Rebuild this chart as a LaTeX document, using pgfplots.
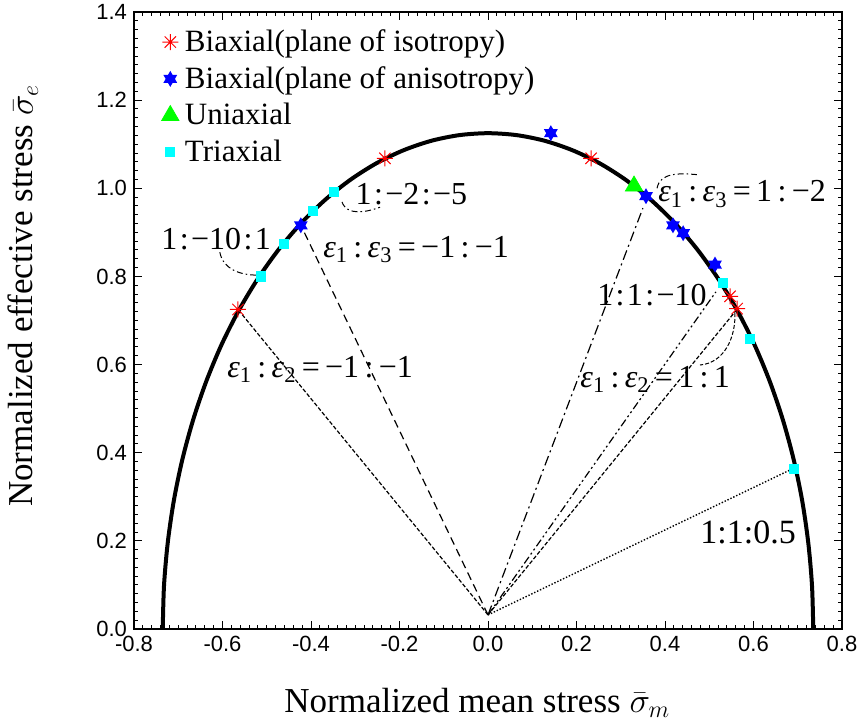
\documentclass[border=0pt]{standalone}
\usepackage{pgfplots}
\pgfplotsset{compat=1.18}
\usepackage{fontspec}
\setmainfont{Liberation Serif}
\newfontfamily\sansf{Liberation Sans}
\usetikzlibrary{plotmarks}

% six-pointed filled star
\pgfdeclareplotmark{hexstar}{%
  \pgfpathmoveto{\pgfqpointpolar{90}{\pgfplotmarksize}}%
  \pgfpathlineto{\pgfqpointpolar{210}{\pgfplotmarksize}}%
  \pgfpathlineto{\pgfqpointpolar{330}{\pgfplotmarksize}}%
  \pgfpathclose
  \pgfpathmoveto{\pgfqpointpolar{270}{\pgfplotmarksize}}%
  \pgfpathlineto{\pgfqpointpolar{30}{\pgfplotmarksize}}%
  \pgfpathlineto{\pgfqpointpolar{150}{\pgfplotmarksize}}%
  \pgfpathclose
  \pgfusepathqfill}
% eight-ray asterisk
\pgfdeclareplotmark{ast8}{%
  \pgfpathmoveto{\pgfqpoint{-\pgfplotmarksize}{0pt}}\pgfpathlineto{\pgfqpoint{\pgfplotmarksize}{0pt}}%
  \pgfpathmoveto{\pgfqpoint{0pt}{-\pgfplotmarksize}}\pgfpathlineto{\pgfqpoint{0pt}{\pgfplotmarksize}}%
  \pgfpathmoveto{\pgfqpointpolar{45}{\pgfplotmarksize}}\pgfpathlineto{\pgfqpointpolar{225}{\pgfplotmarksize}}%
  \pgfpathmoveto{\pgfqpointpolar{135}{\pgfplotmarksize}}\pgfpathlineto{\pgfqpointpolar{315}{\pgfplotmarksize}}%
  \pgfusepathqstroke}

\newcommand\eps[1]{\textit{ε}\textsubscript{#1}}
\newcommand\ann{\fontsize{16}{18}\selectfont}
\newcommand\s{\kern1.2pt}

\begin{document}
\begin{tikzpicture}
\begin{axis}[
    name=ax,
    width=354pt, height=308.5pt, scale only axis,
    xmin=-0.8, xmax=0.8, ymin=0, ymax=1.4,
    xtick={-0.8,-0.6,...,0.8},
    xticklabels={-0.8,-0.6,-0.4,-0.2,0.0,0.2,0.4,0.6,0.8},
    ytick={0,0.2,...,1.4},
    yticklabel style={/pgf/number format/.cd,fixed,fixed zerofill,precision=1},
    minor x tick num=9, minor y tick num=9,
    tick align=inside,
    major tick length=4pt, minor tick length=2pt,
    every tick/.style={black, line width=0.5pt},
    axis line style={line width=0.75pt},
    ticklabel style={font=\sansf\fontsize{11}{13}\selectfont},
    /pgf/number format/assume math mode=true,
    xlabel={Normalized mean stress $\bar{\sigma}_m$},
    ylabel={Normalized effective stress $\bar{\sigma}_e$},
    label style={font=\fontsize{17.5}{20}\selectfont},
    xlabel style={at={(axis description cs:0.485,0)}, anchor=base, yshift=-41.5pt},
    ylabel style={at={(axis description cs:-0.1427,0.54)}, anchor=base},
    legend cell align=left,
    legend style={at={(axis description cs:0.03,0.985)}, anchor=north west,
        draw=none, fill=none, font=\fontsize{15.5}{17}\selectfont, row sep=2pt,
        /tikz/every odd column/.append style={column sep=1pt}},
]
% measured points
\addplot[only marks, mark=ast8, mark size=4pt, red, line width=0.5pt]
  coordinates {(-0.565,0.725) (-0.233,1.068) (0.233,1.068) (0.547,0.755) (0.563,0.727)};
\addlegendentry{Biaxial(plane of isotropy)}
\addplot[only marks, mark=hexstar, mark size=4pt, blue]
  coordinates {(-0.423,0.916) (0.142,1.125) (0.357,0.982) (0.418,0.916) (0.441,0.898) (0.513,0.827)};
\addlegendentry{Biaxial(plane of anisotropy)}
\addplot[only marks, mark=triangle*, mark size=5pt, color={rgb,255:red,0;green,255;blue,0}]
  coordinates {(0.330,1.005)};
\addlegendentry{Uniaxial}
\addplot[only marks, mark=square*, mark size=2.3pt, color={rgb,255:red,0;green,255;blue,255}]
  coordinates {(-0.513,0.800) (-0.461,0.873) (-0.395,0.948) (-0.348,0.991) (0.531,0.786) (0.592,0.659) (0.692,0.364)};
\addlegendentry{Triaxial}

% yield locus
\addplot[black, line width=2pt, smooth, forget plot] coordinates {
  (0.735,0) (0.7322,0.0981) (0.7238,0.1953) (0.7100,0.2912) (0.6907,0.3848)
  (0.6661,0.4754) (0.6365,0.5625) (0.6021,0.6453) (0.5630,0.7232) (0.5197,0.7955)
  (0.4725,0.8618) (0.4216,0.9216) (0.3675,0.9743) (0.3106,1.0196) (0.2514,1.0572)
  (0.1902,1.0866) (0.1276,1.1079) (0.0641,1.1207) (0,1.125)
  (-0.0641,1.1207) (-0.1276,1.1079) (-0.1902,1.0866) (-0.2514,1.0572) (-0.3106,1.0196)
  (-0.3675,0.9743) (-0.4216,0.9216) (-0.4725,0.8618) (-0.5197,0.7955) (-0.5630,0.7232)
  (-0.6021,0.6453) (-0.6365,0.5625) (-0.6661,0.4754) (-0.6907,0.3848) (-0.7100,0.2912)
  (-0.7238,0.1953) (-0.7322,0.0981) (-0.735,0)};

% loading paths
\addplot[black, line width=0.6pt, dash pattern=on 2pt off 1pt, forget plot]
  coordinates {(0,0.032) (-0.565,0.725)};
\addplot[black, line width=0.6pt, dash pattern=on 4pt off 2.5pt, forget plot]
  coordinates {(0,0.032) (-0.420,0.910)};
\addplot[black, line width=0.6pt, dash pattern=on 5pt off 2pt on 1pt off 2pt, forget plot]
  coordinates {(0,0.032) (0.350,0.955)};
\addplot[black, line width=0.6pt, dash pattern=on 4pt off 1.5pt on 1pt off 1.5pt on 1pt off 1.5pt, forget plot]
  coordinates {(0,0.032) (0.515,0.765)};
\addplot[black, line width=0.6pt, dash pattern=on 2pt off 1pt, forget plot]
  coordinates {(0,0.032) (0.560,0.722)};
\addplot[black, line width=0.7pt, dash pattern=on 0.7pt off 0.9pt, forget plot]
  coordinates {(0,0.032) (0.685,0.362)};

% annotation leaders
\draw[black, line width=0.5pt, dash pattern=on 3pt off 1.5pt on 0.8pt off 1.5pt]
  (axis cs:-0.606,0.855) to[out=-80,in=180] (axis cs:-0.522,0.803);
\draw[black, line width=0.5pt, dash pattern=on 3pt off 1.5pt on 0.8pt off 1.5pt]
  (axis cs:-0.330,0.969) to[out=-70,in=-160] (axis cs:-0.244,0.957);
\draw[black, line width=0.5pt, dash pattern=on 3pt off 1.5pt on 0.8pt off 1.5pt]
  (axis cs:0.382,1.000) to[out=80,in=175] (axis cs:0.472,1.031);
\draw[black, line width=0.5pt, dash pattern=on 2pt off 1pt]
  (axis cs:0.558,0.717) to[out=-88,in=5] (axis cs:0.479,0.599);

% labels
\node[anchor=base west, inner sep=0pt, font=\ann] at (axis cs:-0.300,0.964) {1\s:\s−2\s:\s−5};
\node[anchor=base west, inner sep=0pt, font=\ann] at (axis cs:-0.739,0.860) {1\s:\s−10\s:\s1};
\node[anchor=base west, inner sep=0pt, font=\ann] at (axis cs:-0.373,0.844) {\eps{1}\,:\,\eps{3}\,=\,−1\,:\,−1};
\node[anchor=base west, inner sep=0pt, font=\ann] at (axis cs:-0.590,0.570) {\eps{1}\,:\,\eps{2}\,=\,−1\,:\,−1};
\node[anchor=base west, inner sep=0pt, font=\ann] at (axis cs:0.384,0.969) {\eps{1}\,:\,\eps{3}\,=\,1\,:\,−2};
\node[anchor=base west, inner sep=0pt, font=\ann] at (axis cs:0.246,0.735) {1\s:\s1\s:\s−10};
\node[anchor=base west, inner sep=0pt, font=\ann] at (axis cs:0.208,0.549) {\eps{1}\,:\,\eps{2}\,=\,1\,:\,1};
\node[anchor=base west, inner sep=0pt, font=\fontsize{17}{19}\selectfont] at (axis cs:0.479,0.195) {1:1:0.5};
\end{axis}
\pgfresetboundingbox
\path ([shift={(-67pt,-47.5pt)}]ax.south west) rectangle ([shift={(10pt,6pt)}]ax.north east);
\end{tikzpicture}
\end{document}
